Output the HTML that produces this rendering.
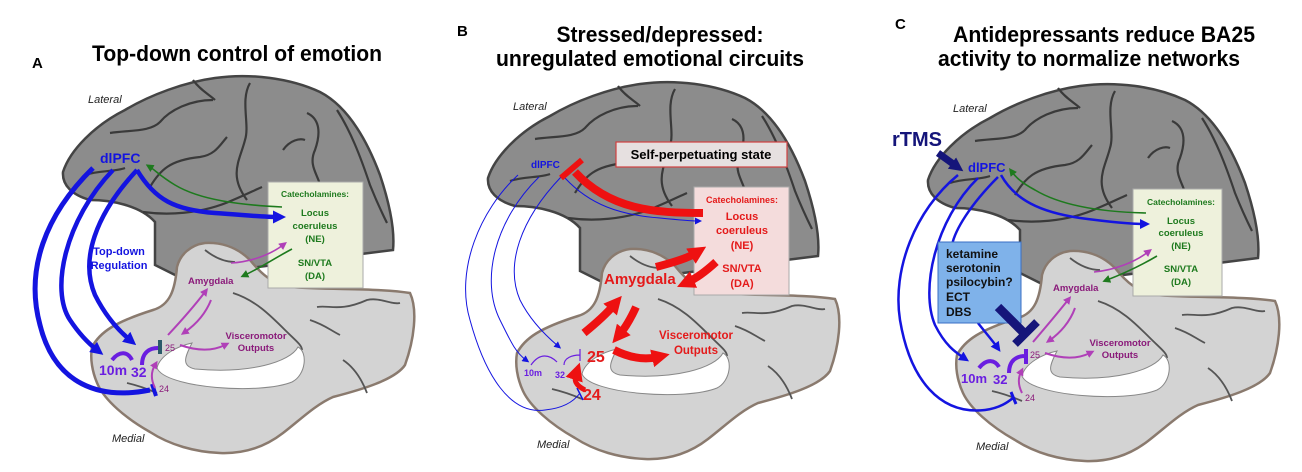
<!DOCTYPE html>
<html><head><meta charset="utf-8"><style>
html,body{margin:0;padding:0;background:#fff;}
svg{display:block;font-family:"Liberation Sans",Arial,sans-serif;}
.b{font-weight:bold;}
</style></head><body>
<svg width="1302" height="472" viewBox="0 0 1302 472">
<defs>
<marker id="mB" markerWidth="10" markerHeight="10" refX="4" refY="5" orient="auto" markerUnits="userSpaceOnUse"><path d="M0,0L10,5L0,10Z" fill="#1414e0"/></marker>
<marker id="mBt" markerWidth="13" markerHeight="13" refX="5" refY="6.5" orient="auto" markerUnits="userSpaceOnUse"><path d="M0,0L13,6.5L0,13Z" fill="#1414e0"/></marker>
<marker id="mBs" markerWidth="7" markerHeight="7" refX="3" refY="3.5" orient="auto" markerUnits="userSpaceOnUse"><path d="M0,0L7,3.5L0,7Z" fill="#1414e0"/></marker>
<marker id="mG" markerWidth="8" markerHeight="8" refX="3" refY="4" orient="auto" markerUnits="userSpaceOnUse"><path d="M0,0L8,4L0,8Z" fill="#1e7a1e"/></marker>
<marker id="mP" markerWidth="8" markerHeight="8" refX="3" refY="4" orient="auto" markerUnits="userSpaceOnUse"><path d="M0,0L8,4L0,8Z" fill="#b040b8"/></marker>
<marker id="mR" markerWidth="18" markerHeight="18" refX="6" refY="9" orient="auto" markerUnits="userSpaceOnUse"><path d="M0,0L18,9L0,18Z" fill="#ee1111"/></marker>
<marker id="mN" markerWidth="14" markerHeight="14" refX="5" refY="7" orient="auto" markerUnits="userSpaceOnUse"><path d="M0,0L14,7L0,14Z" fill="#15157a"/></marker>
<g id="brain">
<path d="M63,172 C70,150 95,125 125,110 C150,95 185,82 215,78 C250,73 290,78 320,92 C345,105 365,135 380,175 C390,205 395,230 393,250 L250,268 L175,275 L155,265 L155,222 C140,205 110,200 90,200 C72,195 62,185 63,172Z" fill="#8c8c8c" stroke="#444" stroke-width="2.5"/>
<g fill="none" stroke="#3a3a3a" stroke-width="2.2">
<path d="M250,83 C240,100 250,125 245,140 C240,160 228,175 247,200"/>
<path d="M110,133 C130,130 150,132 160,122 C170,110 190,100 213,100"/>
<path d="M307,113 C318,118 322,130 315,150 C308,165 318,175 320,185"/>
<path d="M150,187 C160,170 170,160 200,157 C215,155 220,145 227,137"/>
<path d="M143,212 C165,215 200,215 233,200 C245,195 255,190 262,187"/>
<path d="M337,110 C350,130 360,155 370,185 C378,205 383,215 387,223"/>
<path d="M193,80 C200,90 210,95 215,100"/>
<path d="M85,175 C100,170 115,172 125,168"/>
<path d="M283,150 C290,140 300,138 305,140"/>
</g>
<path d="M92,347 C100,332 115,322 153,310 C170,305 175,290 177,267 C180,255 190,245 205,243 C225,242 240,250 250,260 C262,275 272,283 290,287 C330,290 380,288 410,293 C418,310 414,340 405,365 C395,380 360,390 333,397 C315,405 300,420 283,433 C265,447 245,454 220,453 C195,452 170,445 150,432 C125,418 105,400 98,385 C92,372 90,358 92,347Z" fill="#d3d3d3" stroke="#8a7a6e" stroke-width="2.5"/>
<g fill="none" stroke="#555" stroke-width="1.8">
<path d="M317,307 C330,305 340,312 367,300 C380,297 392,305 400,303"/>
<path d="M233,293 C255,300 270,315 285,330 C295,340 302,345 302,350"/>
<path d="M343,360 C355,368 362,380 367,393"/>
<path d="M127,383 C140,386 150,390 157,393"/>
<path d="M310,320 C325,325 330,330 340,335"/>
<path d="M205,250 C215,258 225,262 235,262"/>
</g>
<path d="M157,368 C165,388 260,395 292,382 C306,375 308,352 298,347 C290,362 250,374 195,369 C180,366 186,355 192,343 C178,346 160,355 157,368Z" fill="#fff" stroke="#888" stroke-width="1"/>
</g>
</defs>

<!-- Panel A -->
<g>
<text x="32" y="68" class="b" font-size="15">A</text>
<text x="237" y="61" class="b" font-size="22" text-anchor="middle" textLength="290" lengthAdjust="spacingAndGlyphs">Top-down control of emotion</text>
<use href="#brain"/>
<rect x="268" y="182" width="95" height="106" fill="#eef1dc" stroke="#aaa"/>
<g fill="#1e7a1e" class="b" text-anchor="middle">
<text x="315" y="197" font-size="8.5">Catecholamines:</text>
<text x="315" y="216" font-size="9.5">Locus</text>
<text x="315" y="229" font-size="9.5">coeruleus</text>
<text x="315" y="242" font-size="9.5">(NE)</text>
<text x="315" y="266" font-size="9.5">SN/VTA</text>
<text x="315" y="279" font-size="9.5">(DA)</text>
</g>
<g fill="none" stroke="#1414e0" stroke-width="5">
<path d="M93,168 C45,215 25,270 40,325 C55,385 100,400 150,390"/>
<path d="M152,384 L156,396" stroke-width="4"/>
<path d="M113,170 C65,220 50,290 70,320 C80,335 88,343 97,350" marker-end="url(#mBt)" stroke-width="4.5"/>
<path d="M137,170 C95,215 80,260 95,295 C105,315 118,330 130,340" marker-end="url(#mBt)" stroke-width="4.5"/>
<path d="M137,170 C155,200 175,210 215,213 C245,215 262,217 278,217" marker-end="url(#mBt)" stroke-width="4.5"/>
</g>
<path d="M282,207 C240,205 200,200 175,185 C160,176 155,170 150,167" fill="none" stroke="#1e7a1e" stroke-width="1.6" marker-end="url(#mG)"/>
<path d="M292,249 C275,258 260,268 245,275" fill="none" stroke="#1e7a1e" stroke-width="1.6" marker-end="url(#mG)"/>
<path d="M231,263 C250,262 270,255 283,245" fill="none" stroke="#b040b8" stroke-width="1.6" marker-end="url(#mP)"/>
<g fill="none" stroke="#b040b8" stroke-width="2">
<path d="M168,335 C182,320 195,305 205,292" marker-end="url(#mP)"/>
<path d="M211,300 C205,315 195,325 185,332" marker-end="url(#mP)"/>
<path d="M180,345 C200,352 215,350 225,345" marker-end="url(#mP)"/>
<path d="M155,388 C150,378 152,370 155,365" marker-end="url(#mP)"/>
</g>
<path d="M112,360 C120,350 128,352 132,360" fill="none" stroke="#6a1ee0" stroke-width="4"/>
<path d="M142,365 C142,352 150,348 158,348" fill="none" stroke="#6a1ee0" stroke-width="4"/>
<rect x="158" y="340" width="4" height="14" fill="#2a5a6a"/>
<text x="88" y="103" font-size="11" font-style="italic" fill="#222">Lateral</text>
<text x="100" y="163" class="b" font-size="14" fill="#1414e0">dlPFC</text>
<text x="119" y="255" class="b" font-size="11" fill="#1414e0" text-anchor="middle"><tspan x="119">Top-down</tspan><tspan x="119" dy="14">Regulation</tspan></text>
<text x="188" y="284" class="b" font-size="9.5" fill="#8a1a7a">Amygdala</text>
<text x="256" y="339" class="b" font-size="9.5" fill="#8a1a7a" text-anchor="middle"><tspan x="256">Visceromotor</tspan><tspan x="256" dy="12">Outputs</tspan></text>
<text x="99" y="375" class="b" font-size="14" fill="#6a1ee0">10m</text>
<text x="131" y="377" class="b" font-size="14" fill="#6a1ee0">32</text>
<text x="165" y="351" font-size="9" fill="#8a1a7a">25</text>
<text x="159" y="392" font-size="9" fill="#8a1a7a">24</text>
<text x="112" y="442" font-size="11" font-style="italic" fill="#222">Medial</text>
</g>

<!-- Panel B -->
<g>
<text x="457" y="36" class="b" font-size="15">B</text>
<text x="660" y="42" class="b" font-size="22" text-anchor="middle" textLength="207" lengthAdjust="spacingAndGlyphs">Stressed/depressed:</text>
<text x="650" y="66" class="b" font-size="22" text-anchor="middle" textLength="308" lengthAdjust="spacingAndGlyphs">unregulated emotional circuits</text>
<use href="#brain" transform="translate(425,6)"/>
<rect x="616" y="142" width="171" height="25" fill="#e6e0e0" stroke="#d04040" stroke-width="1.2"/>
<text x="701" y="159" class="b" font-size="13" text-anchor="middle">Self-perpetuating state</text>
<rect x="694" y="187" width="95" height="108" fill="#f4dcdc" stroke="#aaa"/>
<g fill="#e41a1a" class="b" text-anchor="middle">
<text x="742" y="203" font-size="9">Catecholamines:</text>
<text x="742" y="220" font-size="11">Locus</text>
<text x="742" y="234" font-size="11">coeruleus</text>
<text x="742" y="249" font-size="11">(NE)</text>
<text x="742" y="272" font-size="11">SN/VTA</text>
<text x="742" y="287" font-size="11">(DA)</text>
</g>
<g fill="none" stroke="#1414e0" stroke-width="1">
<path d="M518,175 C480,210 455,270 470,320 C485,375 510,415 545,410 C565,408 575,400 580,393" />
<path d="M577,388 L583,400" stroke-width="1.5"/>
<path d="M539,177 C495,220 480,280 500,320 C510,340 515,352 526,360" marker-end="url(#mBs)"/>
<path d="M561,177 C520,220 505,265 520,300 C530,320 545,335 558,346" marker-end="url(#mBs)"/>
<path d="M565,178 C590,205 620,215 660,218 C680,220 690,221 698,221" marker-end="url(#mBs)"/>
</g>
<path d="M531,365 C540,352 550,355 557,362" fill="none" stroke="#6a1ee0" stroke-width="1.2"/>
<path d="M564,365 C564,358 572,355 580,355 M580,349 L580,361" fill="none" stroke="#6a1ee0" stroke-width="1.2"/>
<g fill="none" stroke="#ee1111" stroke-width="8">
<path d="M703,213 C655,213 610,210 575,172"/>
<path d="M561,178 L582,160" stroke-width="6"/>
<path d="M656,267 C675,262 688,258 696,253" marker-end="url(#mR)"/>
<path d="M716,262 C705,272 697,278 688,282" marker-end="url(#mR)"/>
<path d="M584,333 C600,320 608,312 614,305" marker-end="url(#mR)"/>
<path d="M636,307 C630,320 625,328 620,334" marker-end="url(#mR)"/>
<path d="M614,350 C630,358 645,360 658,357" marker-end="url(#mR)"/>
<path d="M585,390 C575,385 574,380 576,374" stroke-width="5" marker-end="url(#mR)"/>
</g>
<text x="513" y="110" font-size="11" font-style="italic" fill="#222">Lateral</text>
<text x="531" y="168" class="b" font-size="10" fill="#1414e0">dlPFC</text>
<text x="604" y="284" class="b" font-size="15" fill="#e41a1a">Amygdala</text>
<text x="696" y="339" class="b" font-size="11.5" fill="#e41a1a" text-anchor="middle"><tspan x="696">Visceromotor</tspan><tspan x="696" dy="15">Outputs</tspan></text>
<text x="524" y="376" class="b" font-size="9" fill="#6a1ee0">10m</text>
<text x="555" y="378" class="b" font-size="9" fill="#6a1ee0">32</text>
<text x="587" y="362" class="b" font-size="16" fill="#e41a1a">25</text>
<text x="583" y="400" class="b" font-size="16" fill="#e41a1a">24</text>
<text x="537" y="448" font-size="11" font-style="italic" fill="#222">Medial</text>
</g>

<!-- Panel C -->
<g>
<text x="895" y="29" class="b" font-size="15">C</text>
<text x="1104" y="42" class="b" font-size="22" text-anchor="middle" textLength="302" lengthAdjust="spacingAndGlyphs">Antidepressants reduce BA25</text>
<text x="1089" y="66" class="b" font-size="22" text-anchor="middle" textLength="302" lengthAdjust="spacingAndGlyphs">activity to normalize networks</text>
<use href="#brain" transform="translate(865,8)"/>
<rect x="1133" y="189" width="89" height="107" fill="#eef1dc" stroke="#aaa"/>
<g fill="#1e7a1e" class="b" text-anchor="middle">
<text x="1181" y="205" font-size="8.5">Catecholamines:</text>
<text x="1181" y="224" font-size="9.5">Locus</text>
<text x="1181" y="236" font-size="9.5">coeruleus</text>
<text x="1181" y="249" font-size="9.5">(NE)</text>
<text x="1181" y="272" font-size="9.5">SN/VTA</text>
<text x="1181" y="285" font-size="9.5">(DA)</text>
</g>
<g fill="none" stroke="#1414e0" stroke-width="2.5">
<path d="M958,175 C915,210 892,270 900,320 C910,380 940,415 985,410 C1000,408 1008,402 1013,398"/>
<path d="M1011,392 L1016,404" stroke-width="3"/>
<path d="M978,178 C935,220 920,290 935,325 C945,345 955,352 964,358" marker-end="url(#mB)"/>
<path d="M998,177 C970,205 955,230 952,245"/>
<path d="M978,323 C985,332 992,340 997,347" marker-end="url(#mB)"/>
<path d="M1001,175 C1015,200 1040,212 1080,218 C1110,222 1130,224 1144,224" marker-end="url(#mB)"/>
</g>
<path d="M1146,213 C1100,212 1060,205 1035,190 C1020,182 1015,176 1012,172" fill="none" stroke="#1e7a1e" stroke-width="1.6" marker-end="url(#mG)"/>
<path d="M1157,256 C1140,266 1125,273 1107,280" fill="none" stroke="#1e7a1e" stroke-width="1.6" marker-end="url(#mG)"/>
<path d="M1094,272 C1115,270 1135,262 1148,252" fill="none" stroke="#b040b8" stroke-width="1.6" marker-end="url(#mP)"/>
<g fill="none" stroke="#b040b8" stroke-width="2">
<path d="M1033,342 C1045,328 1060,310 1068,300" marker-end="url(#mP)"/>
<path d="M1075,308 C1070,322 1060,333 1050,340" marker-end="url(#mP)"/>
<path d="M1045,353 C1065,360 1080,358 1090,353" marker-end="url(#mP)"/>
<path d="M1022,393 C1018,385 1018,378 1021,372" marker-end="url(#mP)"/>
</g>
<path d="M979,368 C987,358 995,360 999,367" fill="none" stroke="#6a1ee0" stroke-width="4"/>
<path d="M1009,373 C1009,360 1017,356 1025,356 M1026,349 L1026,364" fill="none" stroke="#6a1ee0" stroke-width="4"/>
<rect x="938" y="242" width="83" height="81" fill="#7fb2ea" stroke="#3a6fc4" stroke-width="1"/>
<g class="b" font-size="12" fill="#111">
<text x="946" y="258">ketamine</text>
<text x="946" y="272">serotonin</text>
<text x="946" y="286">psilocybin?</text>
<text x="946" y="301">ECT</text>
<text x="946" y="316">DBS</text>
</g>
<path d="M998,307 L1025,334" stroke="#15157a" stroke-width="9"/>
<path d="M1015,344 L1037,322" stroke="#15157a" stroke-width="8"/>
<path d="M938,153 L956,166" stroke="#15157a" stroke-width="7" marker-end="url(#mN)"/>
<text x="892" y="146" class="b" font-size="20" fill="#15157a">rTMS</text>
<text x="953" y="112" font-size="11" font-style="italic" fill="#222">Lateral</text>
<text x="968" y="172" class="b" font-size="13" fill="#1414e0">dlPFC</text>
<text x="1053" y="291" class="b" font-size="9.5" fill="#8a1a7a">Amygdala</text>
<text x="1120" y="346" class="b" font-size="9.5" fill="#8a1a7a" text-anchor="middle"><tspan x="1120">Visceromotor</tspan><tspan x="1120" dy="12">Outputs</tspan></text>
<text x="961" y="383" class="b" font-size="13" fill="#6a1ee0">10m</text>
<text x="993" y="384" class="b" font-size="13" fill="#6a1ee0">32</text>
<text x="1030" y="358" font-size="9" fill="#8a1a7a">25</text>
<text x="1025" y="401" font-size="9" fill="#8a1a7a">24</text>
<text x="976" y="450" font-size="11" font-style="italic" fill="#222">Medial</text>
</g>
</svg>
</body></html>
